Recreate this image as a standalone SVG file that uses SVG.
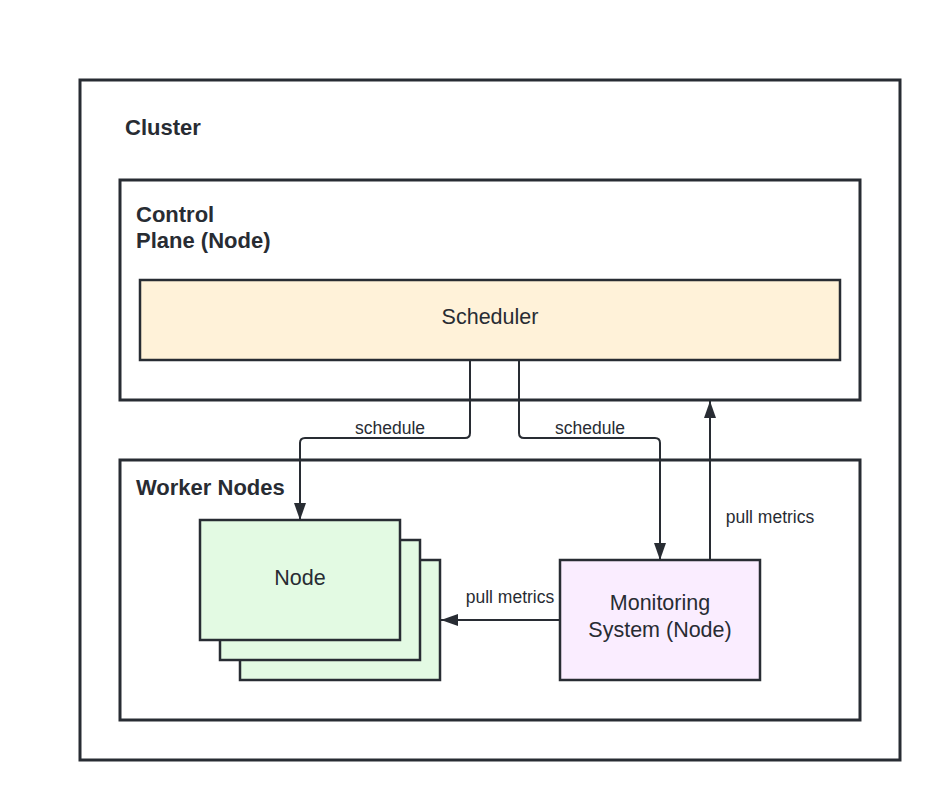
<svg xmlns="http://www.w3.org/2000/svg" width="940" height="800" viewBox="0 0 940 800">
<defs>
<marker id="arr" markerUnits="userSpaceOnUse" markerWidth="17" markerHeight="12" refX="17" refY="6" viewBox="0 0 17 12" orient="auto">
<path d="M0,0 L17,6 L0,12 Z" fill="#282c33"/>
</marker>
<style>
.box{fill:#ffffff;stroke:#282c33;stroke-width:3}
.title{font-family:"Liberation Sans",Arial,sans-serif;font-weight:bold;font-size:22px;fill:#282c33}
.lbl{font-family:"Liberation Sans",Arial,sans-serif;font-size:21.5px;fill:#282c33;text-anchor:middle}
.elbl{font-family:"Liberation Sans",Arial,sans-serif;font-size:17.5px;fill:#282c33;text-anchor:middle}
.conn{fill:none;stroke:#282c33;stroke-width:2}
</style>
</defs>
<rect width="940" height="800" fill="#ffffff"/>
<g id="cluster">
<rect class="box" x="80" y="80" width="820" height="680"/>
<text class="title" x="125" y="135">Cluster</text>
</g>
<g id="control-plane">
<rect class="box" x="120" y="180" width="740" height="220"/>
<text class="title" x="136" y="222">Control</text>
<text class="title" x="136" y="248">Plane (Node)</text>
</g>
<g id="scheduler">
<rect x="140" y="280" width="700" height="80" fill="#fff2d9" stroke="#282c33" stroke-width="2.5"/>
<text class="lbl" x="490" y="324" font-size="22">Scheduler</text>
</g>
<g id="worker-nodes">
<rect class="box" x="120" y="460" width="740" height="260"/>
<text class="title" x="136" y="495">Worker Nodes</text>
</g>
<g id="node">
<rect x="240" y="560" width="200" height="120" fill="#e3fae3" stroke="#282c33" stroke-width="2.5"/>
<rect x="220" y="540" width="200" height="120" fill="#e3fae3" stroke="#282c33" stroke-width="2.5"/>
<rect x="200" y="520" width="200" height="120" fill="#e3fae3" stroke="#282c33" stroke-width="2.5"/>
<text class="lbl" x="300" y="585">Node</text>
</g>
<g id="monitoring">
<rect x="560" y="560" width="200" height="120" fill="#faedff" stroke="#282c33" stroke-width="2.5"/>
<text class="lbl" x="660" y="610">Monitoring</text>
<text class="lbl" x="660" y="637">System (Node)</text>
</g>
<g id="connectors">
<path class="conn" d="M470,360 V433 Q470,438 465,438 H305 Q300,438 300,443 V520" marker-end="url(#arr)"/>
<path class="conn" d="M519,360 V433 Q519,438 524,438 H655 Q660,438 660,443 V560" marker-end="url(#arr)"/>
<path class="conn" d="M710,560 V401" marker-end="url(#arr)"/>
<path class="conn" d="M560,620 H441" marker-end="url(#arr)"/>
<text class="elbl" x="390" y="434">schedule</text>
<text class="elbl" x="590" y="434">schedule</text>
<text class="elbl" x="770" y="523">pull metrics</text>
<text class="elbl" x="510" y="603">pull metrics</text>
</g>
</svg>
